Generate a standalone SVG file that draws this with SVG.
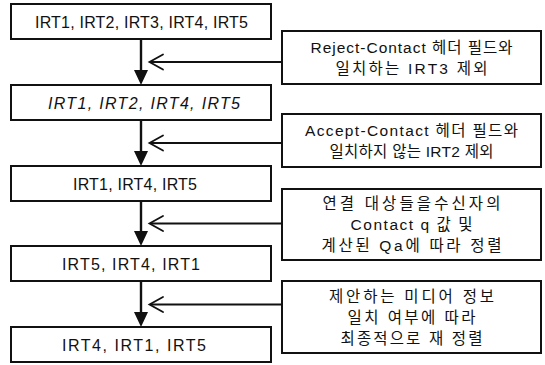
<svg xmlns="http://www.w3.org/2000/svg" width="545" height="365" viewBox="0 0 545 365">
<defs>
<style>
.box{fill:#fff;stroke:#111;stroke-width:2}
.lt{font-family:"Liberation Sans","Noto Sans CJK KR",sans-serif;font-size:16px;fill:#111;text-anchor:middle}
.rt{font-family:"Liberation Sans","Noto Sans CJK KR",sans-serif;font-size:15.5px;fill:#111;text-anchor:middle}
.ln{stroke:#111;stroke-width:2.4;fill:none}
.cn{stroke:#111;stroke-width:1.8;fill:none}
.chev{stroke:#111;stroke-width:1.8;fill:none;stroke-linecap:round;stroke-linejoin:miter}
.head{fill:#111}
</style>
</defs>
<rect width="545" height="365" fill="#fff"/>
<g id="connectors">
<line class="ln" x1="141" y1="39" x2="141" y2="72"/>
<polygon class="head" points="134,70 148,70 141,85"/>
<line class="ln" x1="141" y1="120" x2="141" y2="153"/>
<polygon class="head" points="134,151 148,151 141,166"/>
<line class="ln" x1="141" y1="201" x2="141" y2="233"/>
<polygon class="head" points="134,231 148,231 141,246"/>
<line class="ln" x1="141" y1="281" x2="141" y2="314"/>
<polygon class="head" points="134,312 148,312 141,327"/>
<line class="cn" x1="150" y1="62" x2="282" y2="62"/>
<polyline class="chev" points="163,54.5 149.5,62 163,69.5"/>
<line class="cn" x1="150" y1="143" x2="282" y2="143"/>
<polyline class="chev" points="163,135.5 149.5,143 163,150.5"/>
<line class="cn" x1="150" y1="223.5" x2="282" y2="223.5"/>
<polyline class="chev" points="163,216 149.5,223.5 163,231"/>
<line class="cn" x1="150" y1="304.5" x2="282" y2="304.5"/>
<polyline class="chev" points="163,297 149.5,304.5 163,312"/>
</g>
<g id="n1"><rect class="box" x="11" y="4" width="260" height="35"/><text class="lt" x="141.5" y="27.5" textLength="213" lengthAdjust="spacing">IRT1, IRT2, IRT3, IRT4, IRT5</text></g>
<g id="n2"><rect class="box" x="11" y="85" width="260" height="35"/><text class="lt" x="144" y="108.5" font-style="italic" textLength="192" lengthAdjust="spacing">IRT1, IRT2, IRT4, IRT5</text></g>
<g id="n3"><rect class="box" x="11" y="166" width="260" height="35"/><text class="lt" x="135" y="189.5" textLength="124" lengthAdjust="spacing">IRT1, IRT4, IRT5</text></g>
<g id="n4"><rect class="box" x="11" y="246" width="260" height="35"/><text class="lt" x="131" y="269.5" textLength="138" lengthAdjust="spacing">IRT5, IRT4, IRT1</text></g>
<g id="n5"><rect class="box" x="11" y="327" width="260" height="35"/><text class="lt" x="134" y="350.5" textLength="144" lengthAdjust="spacing">IRT4, IRT1, IRT5</text></g>
<g id="r1"><rect class="box" x="282" y="31" width="259" height="53"/><text class="rt" x="411.5" y="52.5" textLength="202" lengthAdjust="spacing">Reject-Contact 헤더 필드와</text><text class="rt" x="411.5" y="73.5" textLength="152" lengthAdjust="spacing">일치하는 IRT3 제외</text></g>
<g id="r2"><rect class="box" x="282" y="114" width="259" height="53"/><text class="rt" x="411.5" y="135.5" textLength="213" lengthAdjust="spacing">Accept-Contact 헤더 필드와</text><text class="rt" x="411.5" y="156.5" textLength="164" lengthAdjust="spacing">일치하지 않는 IRT2 제외</text></g>
<g id="r3"><rect class="box" x="282" y="189" width="259" height="71"/><text class="rt" x="411.5" y="209" textLength="178" lengthAdjust="spacing">연결 대상들을수신자의</text><text class="rt" x="411.5" y="230" textLength="122" lengthAdjust="spacing">Contact q 값 및</text><text class="rt" x="411.5" y="251" textLength="180" lengthAdjust="spacing">계산된 Qa에 따라 정렬</text></g>
<g id="r4"><rect class="box" x="282" y="281" width="259" height="72"/><text class="rt" x="411.5" y="301.5" textLength="165" lengthAdjust="spacing">제안하는 미디어 정보</text><text class="rt" x="411.5" y="322.5" textLength="128" lengthAdjust="spacing">일치 여부에 따라</text><text class="rt" x="411.5" y="343.5" textLength="142" lengthAdjust="spacing">최종적으로 재 정렬</text></g>
</svg>
